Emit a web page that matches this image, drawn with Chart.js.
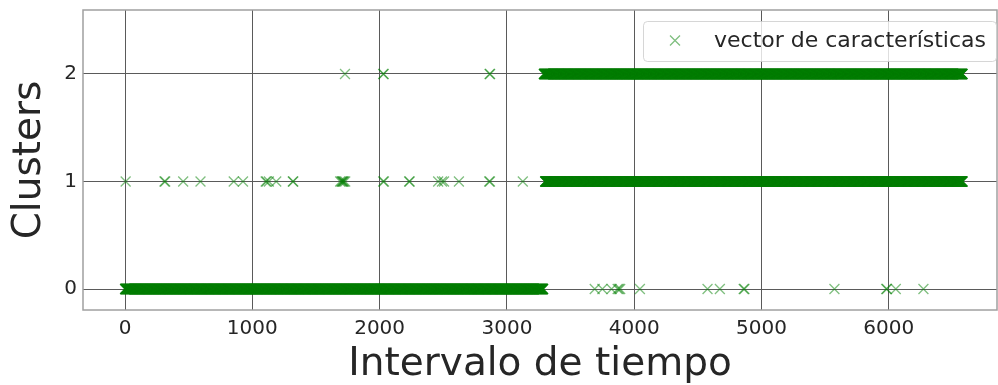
<!DOCTYPE html>
<html>
<head>
<meta charset="utf-8">
<script src="https://cdn.jsdelivr.net/npm/chart.js"></script>
<style>
  html, body { margin: 0; padding: 0; background: #fff; overflow: hidden; }
</style>
</head>
<body>
<canvas id="scatterChart" width="998" height="385"></canvas>
<script>
// consecutive time intervals assigned to each cluster (start, end)
const runsCluster0 = [[0, 3285]];
const runsCluster1 = [[3300, 6580]];
const runsCluster2 = [[3290, 6580]];

// isolated intervals outside the dense runs
const sparseCluster0 = [3690, 3750, 3822, 3870, 3880, 3890, 4045, 4576, 4673, 4860, 4866, 5573, 5980, 5985, 6055, 6272];
const sparseCluster1 = [5, 310, 316, 457, 593, 854, 927, 1105, 1112, 1130, 1188, 1318, 1322,
  1690, 1700, 1705, 1710, 1715, 1720, 1730, 2028, 2034, 2232, 2236, 2460, 2490, 2506, 2623, 2861, 2867, 3125];
const sparseCluster2 = [1728, 2028, 2032, 2864, 2868];

const xTicks = [0, 1000, 2000, 3000, 4000, 5000, 6000];
const yTicks = [0, 1, 2];

const legendLabel = 'vector de características';
const xTitle = 'Intervalo de tiempo';
const yTitle = 'Clusters';

const markerColor = 'rgba(0,128,0,0.5)';
const textColor = '#262626';

// build point list from the runs and the sparse values
let points = [];
function addRuns(runs, y) {
  runs.forEach(r => {
    for (let t = r[0]; t <= r[1]; t++) points.push({x: t, y: y});
  });
}
addRuns(runsCluster0, 0);
addRuns(runsCluster1, 1);
addRuns(runsCluster2, 2);
sparseCluster0.forEach(t => points.push({x: t, y: 0}));
sparseCluster1.forEach(t => points.push({x: t, y: 1}));
sparseCluster2.forEach(t => points.push({x: t, y: 2}));

// frame + legend box drawn inside the plot area, like matplotlib
const framePlugin = {
  id: 'frame',
  beforeDatasetsDraw(chart) {
    const {ctx, chartArea: a} = chart;
    ctx.save();
    ctx.strokeStyle = '#a0a0a0';
    ctx.lineWidth = 1.5;
    ctx.strokeRect(a.left, a.top, a.right - a.left, a.bottom - a.top);
    ctx.restore();
  },
  afterDatasetsDraw(chart) {
    const {ctx} = chart;
    const bx = 643, by = 21, bw = 353, bh = 40;
    ctx.save();
    ctx.beginPath();
    ctx.roundRect(bx + 0.5, by + 0.5, bw, bh, 4);
    ctx.fillStyle = 'rgba(255,255,255,0.8)';
    ctx.fill();
    ctx.strokeStyle = 'rgba(204,204,204,0.8)';
    ctx.lineWidth = 1;
    ctx.stroke();
    ctx.strokeStyle = markerColor;
    ctx.lineWidth = 1.3;
    ctx.beginPath();
    ctx.moveTo(670, 35.5); ctx.lineTo(680, 45.5);
    ctx.moveTo(680, 35.5); ctx.lineTo(670, 45.5);
    ctx.stroke();
    ctx.fillStyle = textColor;
    ctx.font = '22px "DejaVu Sans"';
    ctx.textBaseline = 'middle';
    ctx.textAlign = 'left';
    ctx.fillText(legendLabel, 714, 41);
    ctx.restore();
  }
};

function noPad(s) {
  s.paddingTop = 0; s.paddingBottom = 0; s.paddingLeft = 0; s.paddingRight = 0;
}

const ctx = document.getElementById('scatterChart').getContext('2d');
new Chart(ctx, {
  type: 'scatter',
  data: {
    datasets: [{
      label: legendLabel,
      data: points,
      pointStyle: 'crossRot',
      radius: 7,
      hoverRadius: 7,
      borderWidth: 1.3,
      borderColor: markerColor,
      backgroundColor: markerColor
    }]
  },
  options: {
    responsive: false,
    animation: false,
    events: [],
    layout: { autoPadding: false, padding: { top: 10, right: 1, left: 0, bottom: 0 } },
    plugins: {
      legend: { display: false },
      tooltip: { enabled: false }
    },
    scales: {
      x: {
        type: 'linear',
        min: -330,
        max: 6850,
        afterBuildTicks: s => { s.ticks = xTicks.map(v => ({value: v})); },
        afterFit: s => { s.height = 75; noPad(s); },
        grid: { color: '#5a5a5a', lineWidth: 1, drawTicks: false },
        border: { display: false },
        ticks: {
          padding: 7,
          color: textColor,
          font: { family: 'DejaVu Sans', size: 20 },
          maxRotation: 0,
          callback: v => String(v)
        },
        title: {
          display: true,
          text: xTitle,
          color: textColor,
          font: { family: 'DejaVu Sans', size: 39 },
          padding: { top: 0, bottom: -3 }
        }
      },
      y: {
        type: 'linear',
        min: -0.195,
        max: 2.595,
        afterBuildTicks: s => { s.ticks = yTicks.map(v => ({value: v})); },
        afterFit: s => { s.width = 83; noPad(s); },
        grid: { color: '#5a5a5a', lineWidth: 1, drawTicks: false },
        border: { display: false },
        ticks: {
          padding: 6,
          color: textColor,
          font: { family: 'DejaVu Sans', size: 20 },
          callback: v => String(v)
        },
        title: {
          display: true,
          text: yTitle,
          color: textColor,
          font: { family: 'DejaVu Sans', size: 39 },
          padding: { top: 6, bottom: 0 }
        }
      }
    }
  },
  plugins: [framePlugin]
});
</script>
</body>
</html>
